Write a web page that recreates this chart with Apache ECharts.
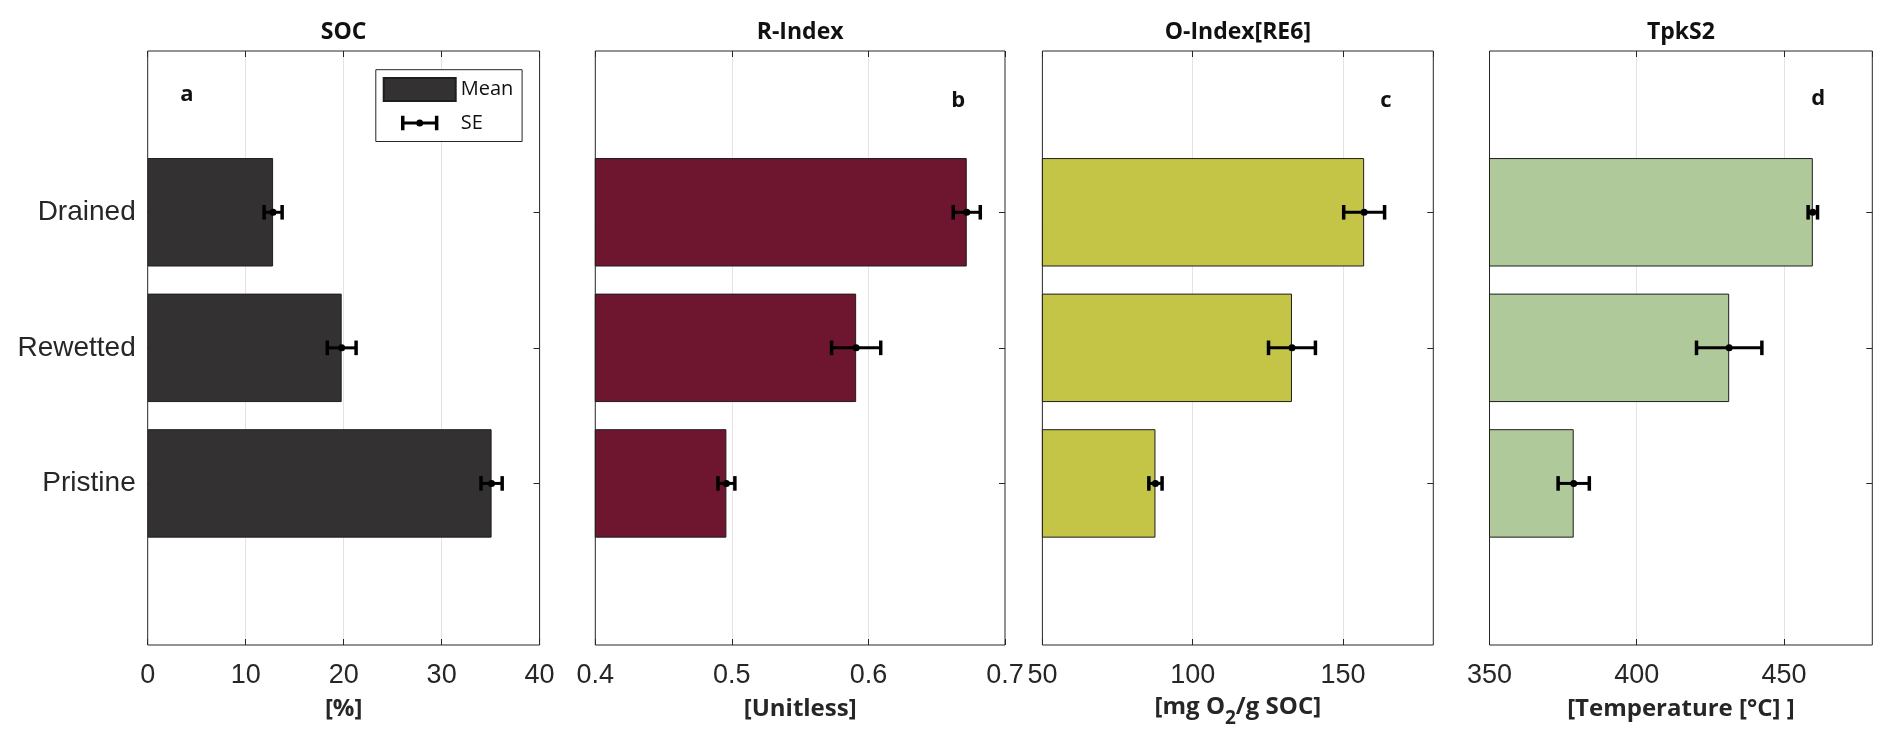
<!DOCTYPE html>
<html><head><meta charset="utf-8">
<script src="https://cdn.jsdelivr.net/npm/echarts@6/dist/echarts.min.js"></script>
<style>html,body{margin:0;padding:0;background:#fff}#c{width:1892px;height:752px}</style>
</head><body><div id="c"></div>
<script>
// ---------- data ----------
const categories = ['Drained', 'Rewetted', 'Pristine'];
const panelTitles = ['SOC', 'R-Index', 'O-Index[RE6]', 'TpkS2'];
const panelLetters = ['a', 'b', 'c', 'd'];
const socMean = [12.8, 19.8, 35.1];
const socSE = [0.92, 1.47, 1.08];
const rIndexMean = [0.672, 0.591, 0.496];
const rIndexSE = [0.0099, 0.018, 0.0062];
const oIndexMean = [157.0, 133.0, 87.6];
const oIndexSE = [6.8, 7.8, 2.2];
const tpkMean = [459.8, 431.4, 378.6];
const tpkSE = [1.6, 11.1, 5.3];
const xMin = [0, 0.4, 50, 350];
const xMax = [40, 0.7, 180, 480];
const xInterval = [10, 0.1, 50, 50];
const axisNames = ['[%]', '[Unitless]', '[mg O{sub|2}/g SOC]', '[Temperature [°C] ]'];

const means = [socMean, rIndexMean, oIndexMean, tpkMean];
const ses = [socSE, rIndexSE, oIndexSE, tpkSE];

// ---------- layout / style ----------
const barColors = ['#333132', '#6e1530', '#c4c447', '#afc99a'];
const panelLeft = [147.7, 595.3, 1042.4, 1489.5];
const panelRight = [539.6, 1005, 1433.3, 1872.3];
const frameTop = 51, frameBottom = 645;
const catTop = 144.5, catBottom = 551.2;
const letterPos = [[186.8, 95], [958.3, 101], [1385.8, 100.5], [1818.3, 99]];
const nameGaps = [52, 52, 42, 52];
const W = 1892, H = 752;
const dark = '#262626';

const grid = [], xAxis = [], yAxis = [], series = [], title = [];

function errRender(params, api) {
  const idx = api.value(0), m = api.value(1), se = api.value(2);
  const c = api.coord([m, idx]);
  const lo = api.coord([m - se, idx]);
  const hi = api.coord([m + se, idx]);
  const h = 7.3;
  return {
    type: 'group',
    children: [
      { type: 'line', shape: { x1: lo[0], y1: c[1], x2: hi[0], y2: c[1] }, style: { stroke: '#000', lineWidth: 3 } },
      { type: 'line', shape: { x1: lo[0], y1: c[1] - h, x2: lo[0], y2: c[1] + h }, style: { stroke: '#000', lineWidth: 3.5 } },
      { type: 'line', shape: { x1: hi[0], y1: c[1] - h, x2: hi[0], y2: c[1] + h }, style: { stroke: '#000', lineWidth: 3.5 } },
      { type: 'circle', shape: { cx: c[0], cy: c[1], r: 3.5 }, style: { fill: '#000' } }
    ]
  };
}

for (let p = 0; p < 4; p++) {
  const left = panelLeft[p], width = panelRight[p] - panelLeft[p];
  // frame grid
  grid.push({ left: left, width: width, top: frameTop, height: frameBottom - frameTop,
    show: true, borderColor: dark, borderWidth: 1, backgroundColor: 'transparent' });
  // overlay grid for categories
  grid.push({ left: left, width: width, top: catTop, height: catBottom - catTop });

  const common = { type: 'value', min: xMin[p], max: xMax[p], interval: xInterval[p] };
  xAxis.push(Object.assign({}, common, {
    gridIndex: 2 * p, position: 'bottom',
    axisLine: { show: false },
    axisTick: { show: true, inside: true, length: 6, lineStyle: { color: dark } },
    axisLabel: { show: true, margin: 17.5, color: dark, fontFamily: 'Liberation Sans', fontSize: 27,
      showMinLabel: true, showMaxLabel: p < 2 },
    splitLine: { show: true, showMinLine: false, showMaxLine: false, lineStyle: { color: '#e3e3e3', width: 1 } },
    name: axisNames[p], nameLocation: 'middle', nameGap: nameGaps[p],
    nameTextStyle: { fontFamily: 'Open Sans', fontWeight: 'bold', fontSize: 24, color: dark,
      rich: { sub: { fontFamily: 'Open Sans', fontWeight: 'bold', fontSize: 19, color: dark, padding: [22, 0, 0, 0] } } }
  }));
  xAxis.push(Object.assign({}, common, {
    gridIndex: 2 * p, position: 'top',
    axisLine: { show: false },
    axisTick: { show: true, inside: true, length: 6, lineStyle: { color: dark } },
    axisLabel: { show: false }, splitLine: { show: false }
  }));
  xAxis.push(Object.assign({}, common, { gridIndex: 2 * p + 1, show: false }));

  yAxis.push({ type: 'value', gridIndex: 2 * p, min: 0, max: 1, show: false });
  yAxis.push({ type: 'category', gridIndex: 2 * p + 1, data: categories, inverse: true, position: 'left',
    axisLine: { show: false },
    axisTick: { show: true, inside: true, length: 6, alignWithLabel: true, lineStyle: { color: dark } },
    axisLabel: { show: p === 0, margin: 12, color: dark, fontFamily: 'Liberation Sans', fontSize: 28 } });
  yAxis.push({ type: 'category', gridIndex: 2 * p + 1, data: categories, inverse: true, position: 'right',
    axisLine: { show: false },
    axisTick: { show: true, inside: true, length: 6, alignWithLabel: true, lineStyle: { color: dark } },
    axisLabel: { show: false } });

  series.push({
    type: 'bar', name: p === 0 ? 'Mean' : 'Mean ' + panelTitles[p],
    xAxisIndex: 3 * p + 2, yAxisIndex: 3 * p + 1,
    data: means[p], barWidth: '80%', clip: true,
    itemStyle: { color: barColors[p], borderColor: '#1e1e1e', borderWidth: 1 },
    emphasis: { disabled: true }, animation: false
  });
  series.push({
    type: 'custom', name: p === 0 ? 'SE' : 'SE ' + panelTitles[p],
    xAxisIndex: 3 * p + 2, yAxisIndex: 3 * p + 1,
    renderItem: errRender, clip: false, z: 5,
    itemStyle: { color: '#000' },
    encode: { y: 0, x: 1 },
    data: categories.map((c, i) => [i, means[p][i], ses[p][i]]),
    animation: false
  });

  title.push({ text: panelTitles[p], left: (panelLeft[p] + panelRight[p]) / 2, top: 32, padding: 0,
    textAlign: 'center', textVerticalAlign: 'middle',
    textStyle: { fontFamily: 'Open Sans', fontWeight: 'bold', fontSize: 23, color: '#111' } });
  title.push({ text: panelLetters[p], left: letterPos[p][0], top: letterPos[p][1], padding: 0,
    textAlign: 'center', textVerticalAlign: 'middle',
    textStyle: { fontFamily: 'Open Sans', fontWeight: 'bold', fontSize: 22, color: '#111' } });
}

const option = {
  animation: false,
  backgroundColor: '#fff',
  title: title,
  grid: grid, xAxis: xAxis, yAxis: yAxis, series: series,
  legend: {
    orient: 'vertical', left: 375.8, top: 69.7,
    padding: [7.3, 8.8, 7, 6.9], itemGap: 9.5, itemWidth: 72, itemHeight: 23,
    backgroundColor: '#fff', borderColor: dark, borderWidth: 1, borderRadius: 0,
    selectedMode: false,
    textStyle: { fontFamily: 'Open Sans', fontSize: 20, color: '#111' },
    data: [
      { name: 'Mean', icon: 'rect' },
      { name: 'SE', icon: 'path://M0,0 M72,23 M17.3,4.3 h3.5 v14.4 h-3.5 z M51.2,4.3 h3.5 v14.4 h-3.5 z M20.8,10 h30.4 v3 h-30.4 z M39.5,11.5 a3.5,3.5 0 1,1 -7,0 a3.5,3.5 0 1,1 7,0 z' }
    ]
  }
};

const chart = echarts.init(document.getElementById('c'), null, { renderer: 'canvas', width: W, height: H });
chart.setOption(option);
</script>
</body></html>
